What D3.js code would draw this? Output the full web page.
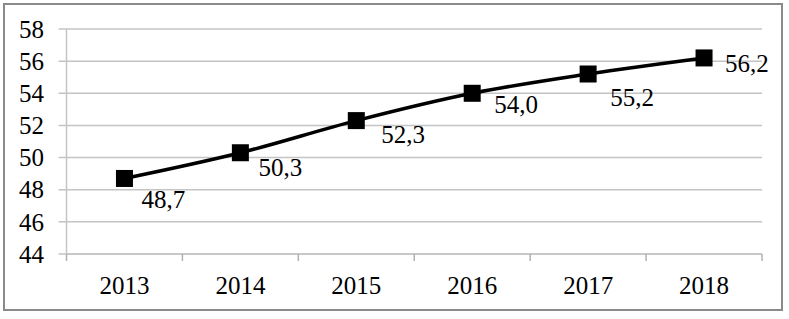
<!DOCTYPE html>
<html>
<head>
<meta charset="utf-8">
<script src="https://cdn.jsdelivr.net/npm/d3@7"></script>
<style>
  body { margin: 0; background: #fff; }
  svg { display: block; }
  svg text { font-family: "Liberation Serif", "Times New Roman", serif; }
</style>
</head>
<body>
<script>
// data
const years = ["2013", "2014", "2015", "2016", "2017", "2018"];
const values = [48.7, 50.3, 52.3, 54.0, 55.2, 56.2];
const valueLabels = ["48,7", "50,3", "52,3", "54,0", "55,2", "56,2"];
const yTicks = [44, 46, 48, 50, 52, 54, 56, 58];

const width = 789, height = 319;
const margin = {top: 29, right: 27, bottom: 65, left: 66.5};
const fontSize = 25;

const svg = d3.select("body")
  .append("svg")
  .attr("width", width)
  .attr("height", height);

// outer border
svg.append("rect")
  .attr("x", 4)
  .attr("y", 4)
  .attr("width", 778)
  .attr("height", 306)
  .attr("fill", "#fff")
  .attr("stroke", "#8a8a8a")
  .attr("stroke-width", 2);

const x = d3.scaleBand()
  .domain(years)
  .range([margin.left, width - margin.right]);

const y = d3.scaleLinear()
  .domain([44, 58])
  .range([height - margin.bottom, margin.top]);

// gridlines
svg.append("g")
  .selectAll("line")
  .data(yTicks)
  .join("line")
  .attr("x1", margin.left - 8)
  .attr("x2", width - margin.right)
  .attr("y1", d => y(d))
  .attr("y2", d => y(d))
  .attr("stroke", "#c4c4c4")
  .attr("stroke-width", 1.5);

// y axis line
svg.append("line")
  .attr("x1", margin.left)
  .attr("x2", margin.left)
  .attr("y1", y(58))
  .attr("y2", y(44))
  .attr("stroke", "#c4c4c4")
  .attr("stroke-width", 1.5);

// y labels
svg.append("g")
  .selectAll("text")
  .data(yTicks)
  .join("text")
  .attr("x", 44)
  .attr("y", d => y(d))
  .attr("dy", "0.35em")
  .attr("text-anchor", "end")
  .attr("font-size", fontSize)
  .attr("fill", "#000")
  .text(d => d);

// x axis with ticks between categories
const xAxis = svg.append("g")
  .attr("transform", `translate(0,${y(44)})`);
xAxis.append("line")
  .attr("x1", margin.left)
  .attr("x2", width - margin.right)
  .attr("stroke", "#c4c4c4")
  .attr("stroke-width", 1.5);
const bounds = years.map(d => x(d)).concat([width - margin.right]);
xAxis.selectAll(".tick")
  .data(bounds)
  .join("line")
  .attr("class", "tick")
  .attr("x1", d => d)
  .attr("x2", d => d)
  .attr("y1", 0)
  .attr("y2", 7)
  .attr("stroke", "#b0b0b0")
  .attr("stroke-width", 1.5);
xAxis.selectAll("text")
  .data(years)
  .join("text")
  .attr("x", d => x(d) + x.bandwidth() / 2)
  .attr("y", 31)
  .attr("dy", "0.35em")
  .attr("text-anchor", "middle")
  .attr("font-size", fontSize)
  .attr("fill", "#000")
  .text(d => d);

const pts = years.map((d, i) => ({year: d, value: values[i], label: valueLabels[i]}));

// line
const line = d3.line()
  .x(d => x(d.year) + x.bandwidth() / 2)
  .y(d => y(d.value))
  .curve(d3.curveMonotoneX);

svg.append("path")
  .datum(pts)
  .attr("fill", "none")
  .attr("stroke", "#000")
  .attr("stroke-width", 3.5)
  .attr("d", line);

// markers
const ms = 17;
svg.append("g")
  .selectAll("rect")
  .data(pts)
  .join("rect")
  .attr("x", d => x(d.year) + x.bandwidth() / 2 - ms / 2)
  .attr("y", d => y(d.value) - ms / 2)
  .attr("width", ms)
  .attr("height", ms)
  .attr("fill", "#000");

// value labels, nudged like the original
const nudge = [[17, 21], [18, 14], [25, 14], [22, 11], [22, 23], [21, 5]];
svg.append("g")
  .selectAll("text")
  .data(pts)
  .join("text")
  .attr("x", (d, i) => x(d.year) + x.bandwidth() / 2 + nudge[i][0])
  .attr("y", (d, i) => y(d.value) + nudge[i][1])
  .attr("dy", "0.35em")
  .attr("font-size", fontSize)
  .attr("fill", "#000")
  .text(d => d.label);
</script>
</body>
</html>
